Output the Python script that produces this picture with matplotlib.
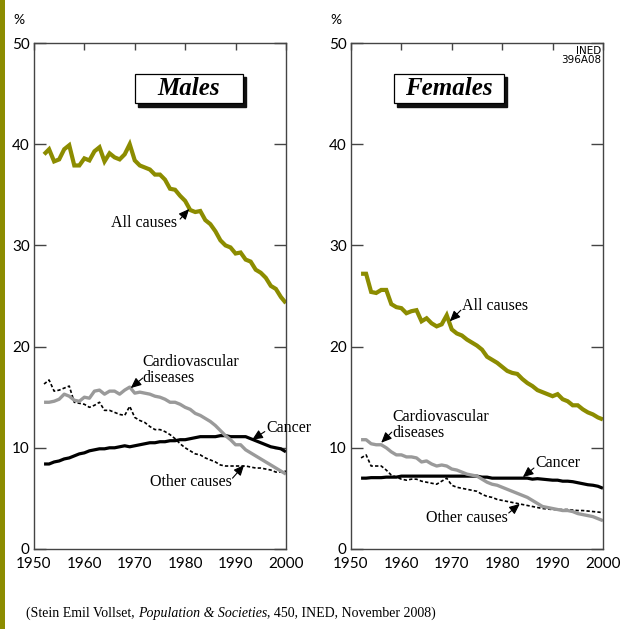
import numpy as np
import matplotlib
matplotlib.use("Agg")
import matplotlib.pyplot as plt
from matplotlib.patches import Rectangle

years = np.arange(1952, 2001)

males_all = [39.0, 39.5, 38.3, 38.5, 39.5, 39.9, 37.9, 37.9, 38.6, 38.4,
             39.3, 39.7, 38.3, 39.1, 38.7, 38.5, 39.0, 40.0, 38.4, 37.9,
             37.7, 37.5, 37.0, 37.0, 36.5, 35.6, 35.5, 34.9, 34.4, 33.5,
             33.3, 33.4, 32.5, 32.1, 31.4, 30.5, 30.0, 29.8, 29.2, 29.3,
             28.6, 28.4, 27.6, 27.3, 26.8, 26.0, 25.7, 24.9, 24.3]
males_cvd = [14.5, 14.5, 14.6, 14.8, 15.3, 15.1, 14.7, 14.6, 15.0, 14.9,
             15.6, 15.7, 15.3, 15.6, 15.6, 15.3, 15.7, 16.0, 15.4, 15.5,
             15.4, 15.3, 15.1, 15.0, 14.8, 14.5, 14.5, 14.3, 14.0, 13.8,
             13.4, 13.2, 12.9, 12.6, 12.2, 11.7, 11.2, 10.8, 10.3, 10.3,
             9.8, 9.5, 9.2, 8.9, 8.6, 8.3, 8.0, 7.7, 7.4]
males_cancer = [8.4, 8.4, 8.6, 8.7, 8.9, 9.0, 9.2, 9.4, 9.5, 9.7,
                9.8, 9.9, 9.9, 10.0, 10.0, 10.1, 10.2, 10.1, 10.2, 10.3,
                10.4, 10.5, 10.5, 10.6, 10.6, 10.7, 10.7, 10.8, 10.8, 10.9,
                11.0, 11.1, 11.1, 11.1, 11.1, 11.2, 11.2, 11.1, 11.1, 11.1,
                11.1, 10.9, 10.7, 10.5, 10.3, 10.1, 10.0, 9.9, 9.6]
males_other = [16.3, 16.7, 15.6, 15.7, 15.9, 16.1, 14.5, 14.4, 14.3, 14.0,
               14.2, 14.5, 13.7, 13.7, 13.5, 13.3, 13.2, 14.1, 13.0, 12.7,
               12.5, 12.1, 11.8, 11.8, 11.6, 11.3, 10.9, 10.4, 10.0, 9.7,
               9.4, 9.3, 9.0, 8.8, 8.6, 8.3, 8.2, 8.2, 8.2, 8.2,
               8.2, 8.1, 8.0, 8.0, 7.9, 7.8, 7.6, 7.6, 7.7]

females_all = [27.2, 27.2, 25.4, 25.3, 25.6, 25.6, 24.2, 23.9, 23.8, 23.3,
               23.5, 23.6, 22.5, 22.8, 22.3, 22.0, 22.2, 23.1, 21.7, 21.3,
               21.1, 20.7, 20.4, 20.1, 19.7, 19.0, 18.7, 18.4, 18.0, 17.6,
               17.4, 17.3, 16.8, 16.4, 16.1, 15.7, 15.5, 15.3, 15.1, 15.3,
               14.8, 14.6, 14.2, 14.2, 13.8, 13.5, 13.3, 13.0, 12.8]
females_cvd = [10.8, 10.8, 10.4, 10.3, 10.3, 10.0, 9.6, 9.3, 9.3, 9.1,
               9.1, 9.0, 8.6, 8.7, 8.4, 8.2, 8.3, 8.2, 7.9, 7.8,
               7.6, 7.4, 7.3, 7.2, 6.9, 6.6, 6.4, 6.3, 6.1, 5.9,
               5.7, 5.5, 5.3, 5.1, 4.8, 4.5, 4.2, 4.1, 4.0, 3.9,
               3.8, 3.8, 3.7, 3.5, 3.4, 3.3, 3.2, 3.0, 2.8]
females_cancer = [7.0, 7.0, 7.05, 7.05, 7.05, 7.1, 7.1, 7.1, 7.2, 7.2,
                  7.2, 7.2, 7.2, 7.2, 7.2, 7.2, 7.2, 7.2, 7.2, 7.2,
                  7.2, 7.2, 7.2, 7.2, 7.1, 7.1, 7.0, 7.0, 7.0, 7.0,
                  7.0, 7.0, 7.0, 7.0, 6.9, 6.95, 6.9, 6.85, 6.8, 6.8,
                  6.7, 6.7, 6.65, 6.55, 6.45, 6.35, 6.3, 6.2, 6.0]
females_other = [9.0, 9.3, 8.2, 8.2, 8.2, 7.8, 7.3, 7.1, 6.9, 6.8,
                 6.9, 6.9, 6.7, 6.6, 6.5, 6.4, 6.7, 7.0, 6.3, 6.1,
                 6.0, 5.9, 5.8, 5.7, 5.4, 5.2, 5.1, 4.9, 4.8, 4.7,
                 4.6, 4.5, 4.4, 4.3, 4.2, 4.1, 4.0, 3.95, 3.9, 3.9,
                 3.9, 3.9, 3.85, 3.8, 3.8, 3.75, 3.7, 3.65, 3.6]

x_ticks = [1950, 1960, 1970, 1980, 1990, 2000]
y_ticks = [0, 10, 20, 30, 40, 50]

OLIVE = "#8c8c00"
GREY = "#9a9a9a"
SERIF = "Liberation Serif"
SANS = "Lato"

ARROW = dict(arrowstyle="-|>,head_length=0.45,head_width=0.2", color="black",
             lw=0.8, shrinkA=0, shrinkB=0, mutation_scale=14)


def draw_panel(ax, all_c, cvd, cancer, other, title, box_x, labels):
    ax.plot(years, other, color="black", lw=1.2, ls=(0, (2, 1.3)))
    ax.plot(years, cancer, color="black", lw=2.3, solid_capstyle="butt")
    ax.plot(years, cvd, color=GREY, lw=2.4, solid_capstyle="butt")
    ax.plot(years, all_c, color=OLIVE, lw=3.0, solid_joinstyle="miter",
            solid_capstyle="butt")

    ax.set_xlim(1950, 2000)
    ax.set_ylim(0, 50)
    ax.set_xticks(x_ticks)
    ax.set_yticks(y_ticks)
    ax.tick_params(axis="y", direction="in", left=True, right=True,
                   length=8.5, width=1, color="#444444", labelsize=11, pad=3)
    ax.tick_params(axis="x", direction="in", top=True, bottom=False,
                   length=5, width=1, color="#444444", labelsize=11, pad=6)
    for lab in ax.get_xticklabels() + ax.get_yticklabels():
        lab.set_fontfamily(SANS)
    for sp in ax.spines.values():
        sp.set_color("#444444")
        sp.set_linewidth(1.0)

    ax.text(-0.06, 1.045, "%", transform=ax.transAxes, ha="center",
            va="center", fontsize=10, fontfamily=SANS)

    # Cartouche avec ombre portée
    x0, x1, y0, y1 = box_x[0], box_x[1], 0.881, 0.939
    ax.add_patch(Rectangle((x0 + 0.012, y0 - 0.007), x1 - x0, y1 - y0,
                           transform=ax.transAxes, color="#111111", zorder=5))
    ax.add_patch(Rectangle((x0, y0), x1 - x0, y1 - y0, transform=ax.transAxes,
                           facecolor="white", edgecolor="black", lw=0.9,
                           zorder=6))
    ax.text((x0 + x1) / 2, (y0 + y1) / 2, title, transform=ax.transAxes,
            ha="center", va="center", fontsize=18, fontweight="bold",
            fontstyle="italic", fontfamily=SERIF, zorder=7)

    # Étiquettes des courbes + flèches
    for txt, pos, ha, tail, tip in labels:
        ax.text(pos[0], pos[1], txt, ha=ha, va="center", fontsize=11.5,
                fontfamily=SERIF, linespacing=0.95)
        ax.annotate("", xy=tip, xytext=tail, arrowprops=ARROW)


fig = plt.figure(figsize=(6.29, 6.29), dpi=100)
ax_m = fig.add_axes([0.054, 0.1272, 0.4006, 0.8044])
ax_f = fig.add_axes([0.558, 0.1272, 0.4006, 0.8044])

draw_panel(ax_m, males_all, males_cvd, males_cancer, males_other, "Males",
           (0.401, 0.829), [
               ("All causes", (1978.4, 32.2), "right", (1979.0, 32.6), (1980.8, 33.6)),
               ("Cardiovascular\ndiseases", (1971.6, 17.7), "left", (1971.6, 16.9), (1969.2, 15.9)),
               ("Cancer", (1996.2, 12.0), "left", (1995.8, 11.6), (1993.3, 10.8)),
               ("Other causes", (1989.3, 6.6), "right", (1989.4, 7.0), (1991.7, 8.3)),
           ])
draw_panel(ax_f, females_all, females_cvd, females_cancer, females_other,
           "Females", (0.171, 0.607), [
               ("All causes", (1972.0, 24.0), "left", (1971.8, 23.6), (1969.6, 22.5)),
               ("Cardiovascular\ndiseases", (1958.3, 12.25), "left", (1958.1, 11.55), (1956.0, 10.5)),
               ("Cancer", (1986.5, 8.5), "left", (1986.3, 8.0), (1984.1, 7.1)),
               ("Other causes", (1981.2, 3.06), "right", (1981.3, 3.56), (1983.5, 4.45)),
           ])

ax_f.text(0.992, 0.994, "INED\n396A08", transform=ax_f.transAxes, ha="right",
          va="top", fontsize=7.5, fontfamily=["Liberation Sans Narrow", "DejaVu Sans"],
          linespacing=0.9)

# Barre verticale olive à gauche
fig.add_artist(Rectangle((0, 0), 5 / 629, 1, transform=fig.transFigure,
                         color=OLIVE, lw=0))

# Source
t1 = fig.text(26 / 629, 1 - 613 / 629, "(Stein Emil Vollset,", va="center",
              fontsize=10, fontfamily=SERIF)
t2 = ax_m.annotate("Population & Societies", xy=(1, 0), xycoords=t1,
                   xytext=(2.5, 0), textcoords="offset points", va="bottom",
                   fontsize=10, fontfamily=SERIF, fontstyle="italic",
                   annotation_clip=False)
ax_m.annotate(", 450, INED, November 2008)", xy=(1, 0), xycoords=t2,
              va="bottom", fontsize=10, fontfamily=SERIF,
              annotation_clip=False)

fig.savefig("out.png", dpi=100)
